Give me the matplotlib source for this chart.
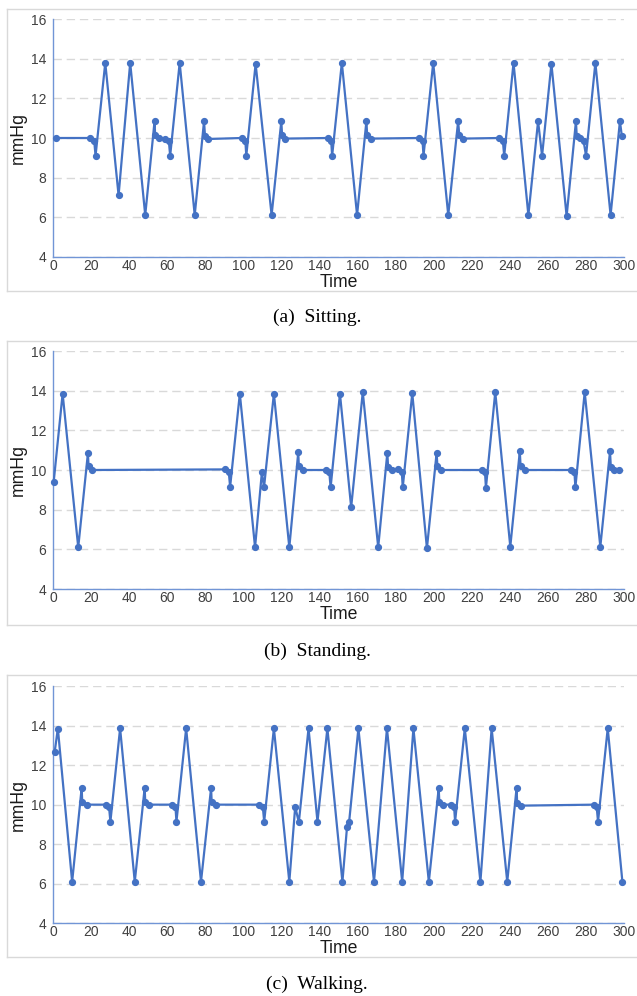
import matplotlib
matplotlib.use("Agg")
import matplotlib.pyplot as plt
from matplotlib.lines import Line2D

plt.rcParams["font.family"] = ["Liberation Sans", "DejaVu Sans"]

# readings taken off the three traces (time, pressure in mmHg)
t_sit = [1.2, 19.2, 21.5, 22.2, 27.3, 34.3, 40.4, 48.3, 53.2, 53.5,
         55.6, 58.9, 60.7, 61.4, 66.4, 74.3, 79.2, 79.7, 81.5, 99.0,
         100.9, 101.4, 106.3, 114.7, 119.8, 120.2, 121.9, 144.2, 146.0, 146.5,
         151.6, 159.6, 164.5, 164.9, 167.1, 191.9, 194.0, 194.5, 199.6, 207.5,
         212.7, 213.3, 215.4, 234.1, 236.2, 236.9, 241.8, 249.6, 254.7, 256.8,
         261.7, 269.7, 274.6, 275.0, 276.7, 278.6, 279.9, 284.8, 292.8, 297.7,
         298.7]
y_sit = [10.0, 10.0, 9.85, 9.1, 13.8, 7.1, 13.8, 6.1, 10.85, 10.15,
         10.0, 9.97, 9.85, 9.1, 13.8, 6.1, 10.85, 10.1, 9.95, 10.0,
         9.85, 9.1, 13.75, 6.1, 10.85, 10.15, 9.97, 10.0, 9.85, 9.1,
         13.8, 6.1, 10.85, 10.15, 9.97, 10.0, 9.85, 9.1, 13.8, 6.1,
         10.85, 10.15, 9.97, 10.0, 9.85, 9.1, 13.8, 6.1, 10.85, 9.1,
         13.75, 6.05, 10.85, 10.1, 10.0, 9.85, 9.1, 13.8, 6.1, 10.85,
         10.1]

t_std = [0.2, 4.9, 13.1, 18.2, 18.5, 20.3, 90.3, 92.2, 92.9, 98.0,
         106.0, 109.6, 110.7, 115.9, 124.0, 128.7, 129.0, 131.1, 143.3, 145.0,
         145.7, 150.6, 156.5, 162.6, 170.7, 175.5, 175.9, 177.8, 181.0, 183.1,
         183.6, 188.6, 196.3, 201.4, 201.8, 203.8, 225.0, 226.8, 227.3, 232.2,
         240.1, 245.1, 245.5, 247.7, 271.9, 273.8, 274.3, 279.2, 287.4, 292.5,
         292.9, 294.8, 297.4]
y_std = [9.4, 13.85, 6.1, 10.86, 10.2, 10.0, 10.03, 9.9, 9.15, 13.85,
         6.1, 9.9, 9.12, 13.85, 6.1, 10.9, 10.2, 10.0, 10.0, 9.9,
         9.12, 13.85, 8.12, 13.93, 6.1, 10.87, 10.13, 10.0, 10.03, 9.9,
         9.12, 13.87, 6.05, 10.87, 10.2, 10.0, 10.0, 9.9, 9.1, 13.93,
         6.13, 10.94, 10.2, 10.0, 10.0, 9.9, 9.12, 13.93, 6.13, 10.94,
         10.17, 10.0, 10.0]

t_wlk = [0.7, 2.4, 9.9, 14.9, 15.2, 17.5, 27.6, 29.3, 30.0, 35.1,
         42.8, 48.0, 48.3, 50.4, 62.4, 64.2, 64.7, 69.8, 77.6, 82.9,
         83.2, 85.3, 108.2, 110.1, 110.8, 115.9, 124.0, 127.1, 129.0, 134.1,
         138.8, 144.0, 151.9, 154.3, 155.4, 160.3, 168.5, 175.3, 183.3, 189.2,
         197.3, 202.5, 202.8, 204.8, 209.0, 210.6, 211.1, 216.2, 224.4, 230.3,
         238.5, 243.4, 243.7, 245.7, 284.0, 285.5, 286.2, 291.3, 299.0]
y_wlk = [12.65, 13.85, 6.1, 10.84, 10.15, 10.0, 10.0, 9.87, 9.14, 13.86,
         6.1, 10.84, 10.15, 10.0, 10.0, 9.87, 9.14, 13.86, 6.1, 10.84,
         10.15, 10.0, 10.0, 9.87, 9.14, 13.86, 6.1, 9.9, 9.1, 13.86,
         9.14, 13.86, 6.1, 8.85, 9.1, 13.86, 6.1, 13.86, 6.1, 13.86,
         6.1, 10.84, 10.15, 10.0, 10.0, 9.87, 9.14, 13.86, 6.1, 13.86,
         6.1, 10.84, 10.1, 9.95, 10.0, 9.87, 9.14, 13.86, 6.1]

captions = ["(a)  Sitting.", "(b)  Standing.", "(c)  Walking."]
x_ticks = list(range(0, 301, 20))
y_ticks = [4, 6, 8, 10, 12, 14, 16]

W, H = 637, 996
fig = plt.figure(figsize=(W / 100, H / 100), dpi=100)

blue = "#4472c4"
axis_blue = "#7195d6"
grid_grey = "#d9d9d9"
text_grey = "#404040"

# pixel layout: (axes top, axes bottom, box top, box bottom, caption y)
layout = [(19.3, 256.7, 9, 291, 317),
          (351.0, 589.0, 341, 625, 651),
          (686.0, 923.3, 675, 957, 984)]
ax_left, ax_right = 53.3, 624.3
series = [(t_sit, y_sit), (t_std, y_std), (t_wlk, y_wlk)]

for (t, y), cap, (top, bot, btop, bbot, cy) in zip(series, captions, layout):
    ax = fig.add_axes([ax_left / W, 1 - bot / H,
                       (ax_right - ax_left) / W, (bot - top) / H])
    ax.plot(t, y, color=blue, lw=1.6, marker="o", ms=4.2, zorder=3,
            clip_on=False)
    ax.set_xlim(0, 300)
    ax.set_ylim(4, 16)
    ax.set_xticks(x_ticks)
    ax.set_yticks(y_ticks)
    ax.tick_params(length=0, labelsize=10, colors=text_grey)
    ax.tick_params(axis="y", pad=5)
    ax.tick_params(axis="x", pad=1.5)
    ax.yaxis.grid(True, color=grid_grey, lw=1, linestyle=(0, (6, 3.5)))
    ax.set_axisbelow(True)
    for s in ["top", "right"]:
        ax.spines[s].set_visible(False)
    for s in ["left", "bottom"]:
        ax.spines[s].set_color(axis_blue)
        ax.spines[s].set_linewidth(1.0)
    ax.set_xlabel("Time", fontsize=12.7, color="#1a1a1a")
    ax.xaxis.label.set_va("center")
    ax.xaxis.set_label_coords(0.5, -25.5 / (bot - top))
    ax.set_ylabel("mmHg", fontsize=12.7, color="#1a1a1a")
    ax.yaxis.label.set_va("center")
    ax.yaxis.set_label_coords(-35.5 / (ax_right - ax_left), 0.5)

    # light frame around each chart, open on the right like the original
    for xs, ys in [([7, W], [btop, btop]), ([7, 7], [btop, bbot]),
                   ([7, W], [bbot, bbot])]:
        fig.add_artist(Line2D([x / W for x in xs], [1 - v / H for v in ys],
                              color=grid_grey, lw=1))

    fig.text(317 / W, 1 - cy / H, cap, ha="center", va="center",
             fontsize=14, family="Liberation Serif")

fig.savefig("out.png", dpi=100)
